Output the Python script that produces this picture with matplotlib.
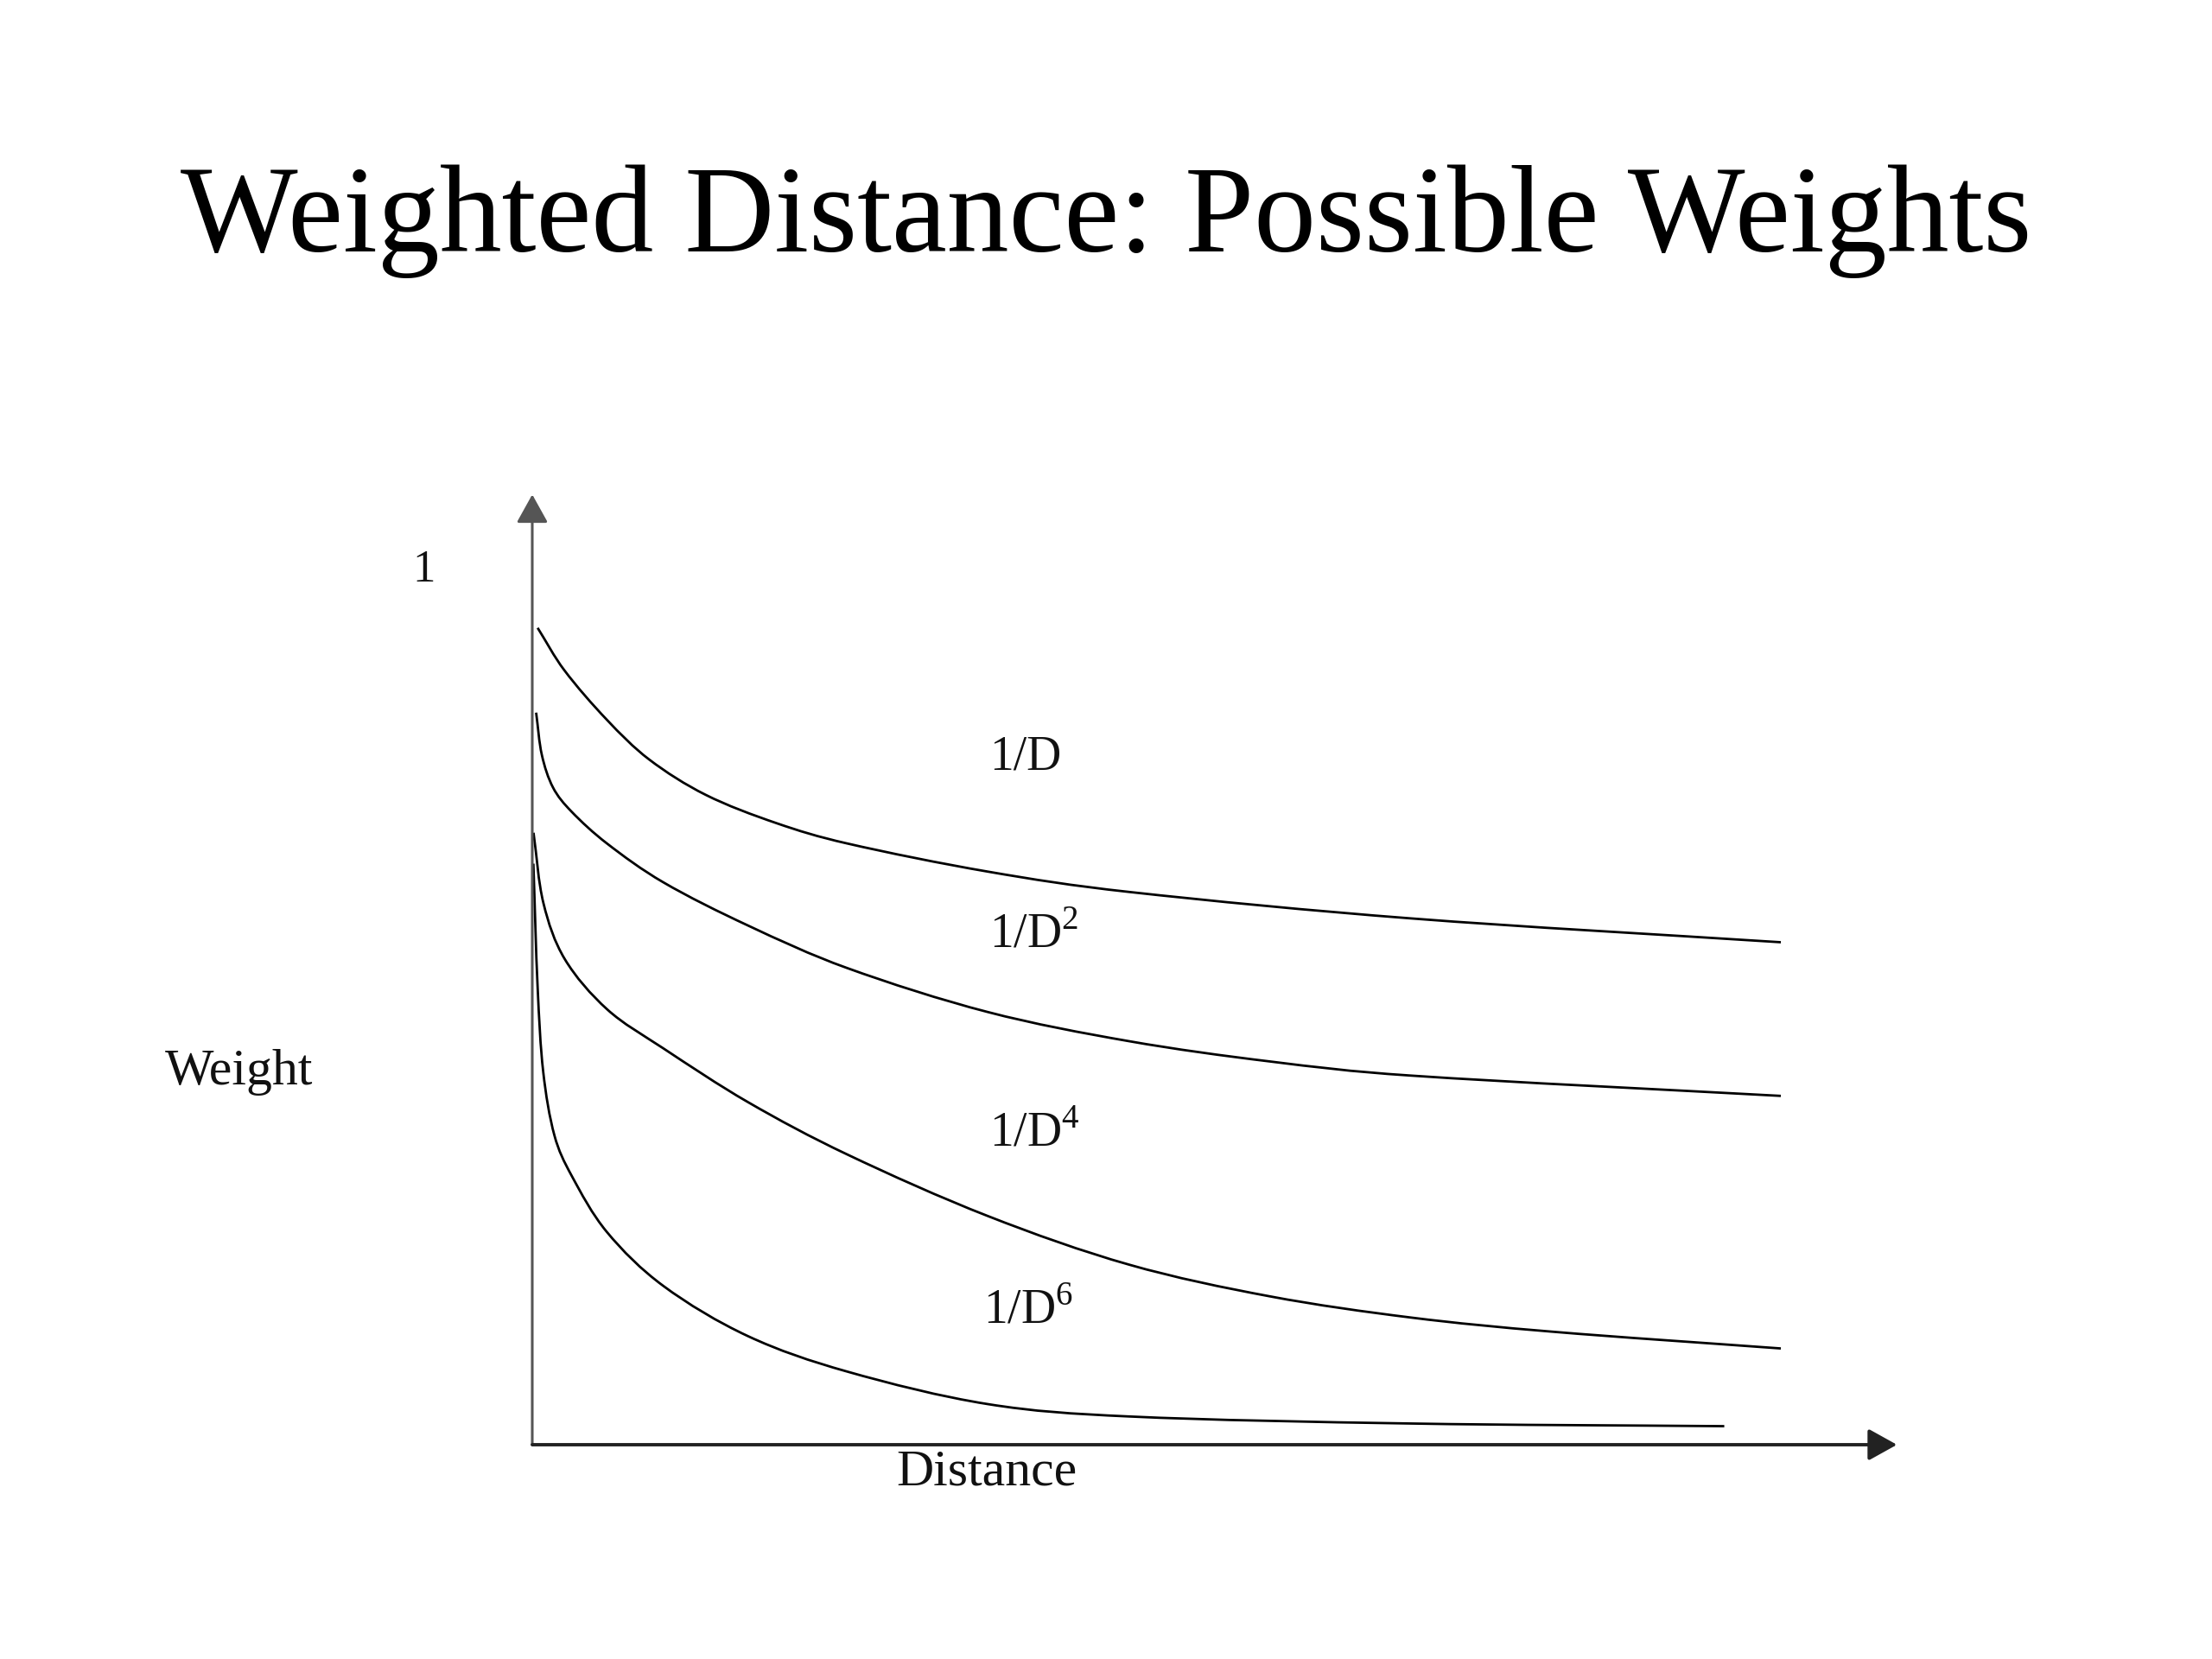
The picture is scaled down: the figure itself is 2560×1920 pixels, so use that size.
import matplotlib
matplotlib.use("Agg")
import numpy as np
import matplotlib.pyplot as plt
from matplotlib.path import Path
from matplotlib.patches import PathPatch

plt.rcParams['font.family'] = ['Liberation Serif', 'DejaVu Serif']
plt.rcParams['mathtext.fontset'] = 'custom'
plt.rcParams['mathtext.rm'] = 'Liberation Serif'

# --- curve data (distance in arbitrary units, weight 0..1) ---
d_inv1 = [0.043, 0.257, 0.597, 0.936, 1.388, 1.953, 2.518, 3.648, 4.778, 7.038, 10.0]
w_inv1 = [0.925, 0.877, 0.821, 0.776, 0.736, 0.704, 0.681, 0.649, 0.626, 0.596, 0.569]

d_inv2 = [0.031, 0.077, 0.167, 0.314, 0.597, 1.048, 1.727, 2.518, 3.648, 4.778, 5.908, 7.038, 10.0]
w_inv2 = [0.829, 0.781, 0.744, 0.717, 0.681, 0.637, 0.588, 0.540, 0.490, 0.457, 0.434, 0.418, 0.395]

d_inv4 = [0.01, 0.09, 0.26, 0.60, 1.048, 1.727, 2.518, 3.648, 4.778, 5.908, 7.038, 8.168, 10.0]
w_inv4 = [0.693, 0.613, 0.550, 0.493, 0.449, 0.388, 0.329, 0.259, 0.204, 0.168, 0.144, 0.128, 0.109]

d_inv6 = [0.009, 0.043, 0.088, 0.178, 0.314, 0.597, 1.048, 1.727, 2.518, 3.648, 4.778, 7.038, 9.547]
w_inv6 = [0.658, 0.518, 0.422, 0.350, 0.305, 0.241, 0.180, 0.123, 0.083, 0.046, 0.032, 0.024, 0.021]

curve_labels = ['1/D', '1/D$^\\mathregular{2}$', '1/D$^\\mathregular{4}$', '1/D$^\\mathregular{6}$']
label_x = [3.66, 3.66, 3.66, 3.61]
label_y = [0.765, 0.563, 0.338, 0.137]

# pixels per data unit, used only to measure chord lengths for the smoothing
PX_X, PX_Y = 144.5, 1022.0


def smooth_line(ax, xs, ys, **kw):
    # smooth bezier through the read points (chord-length Catmull-Rom)
    pts = np.column_stack([xs, ys]).astype(float)
    scr = pts * [PX_X, PX_Y]
    n = len(pts)
    seg = np.sqrt(((scr[1:] - scr[:-1]) ** 2).sum(axis=1)) ** 0.5
    t = np.concatenate([[0], np.cumsum(seg)])
    tang = np.zeros_like(pts)
    tang[0] = (pts[1] - pts[0]) / (t[1] - t[0])
    tang[-1] = (pts[-1] - pts[-2]) / (t[-1] - t[-2])
    for i in range(1, n - 1):
        tang[i] = (pts[i + 1] - pts[i - 1]) / (t[i + 1] - t[i - 1])
    verts = [pts[0]]
    codes = [Path.MOVETO]
    for i in range(n - 1):
        h = t[i + 1] - t[i]
        verts += [pts[i] + tang[i] * h / 3, pts[i + 1] - tang[i + 1] * h / 3, pts[i + 1]]
        codes += [Path.CURVE4] * 3
    ax.add_patch(PathPatch(Path(verts, codes), fill=False, **kw))


fig = plt.figure(figsize=(25.6, 19.2), dpi=100)
fig.patch.set_facecolor('white')

# axes placed so that the drawing sits where the slide has it
ax = fig.add_axes([616 / 2560, 248 / 1920, 1445 / 2560, 1022 / 1920])
ax.set_xlim(0, 10)
ax.set_ylim(0, 1)
ax.axis('off')

for d, w in [(d_inv1, w_inv1), (d_inv2, w_inv2), (d_inv4, w_inv4), (d_inv6, w_inv6)]:
    smooth_line(ax, d, w, edgecolor='black', lw=2.0, clip_on=False, capstyle='butt')

# axes with arrow heads
arrow_style = '-|>,head_length=0.45,head_width=0.25'
ax.annotate('', xy=(0, 1.076), xytext=(0, 0),
            arrowprops=dict(arrowstyle=arrow_style, color='#555555', lw=2.2,
                            mutation_scale=45, shrinkA=0, shrinkB=0), annotation_clip=False)
ax.annotate('', xy=(10.93, 0), xytext=(0, 0),
            arrowprops=dict(arrowstyle=arrow_style, color='#222222', lw=2.8,
                            mutation_scale=45, shrinkA=0, shrinkB=0), annotation_clip=False)

for lab, lx, ly in zip(curve_labels, label_x, label_y):
    ax.text(lx, ly, lab, fontsize=40, ha='left', va='baseline', color='#111111')

ax.text(-0.87, 0.99, '1', fontsize=38, ha='center', va='center', color='#111111')
ax.text(-2.35, 0.422, 'Weight', fontsize=43, ha='center', va='center', color='#111111')
ax.text(3.64, -0.032, 'Distance', fontsize=43, ha='center', va='center', color='#111111')

fig.text(0.5, 1 - 291 / 1920, 'Weighted Distance: Possible Weights',
         fontsize=103.5, ha='center', va='baseline', color='black')

fig.savefig('out.png', dpi=100, facecolor='white')
